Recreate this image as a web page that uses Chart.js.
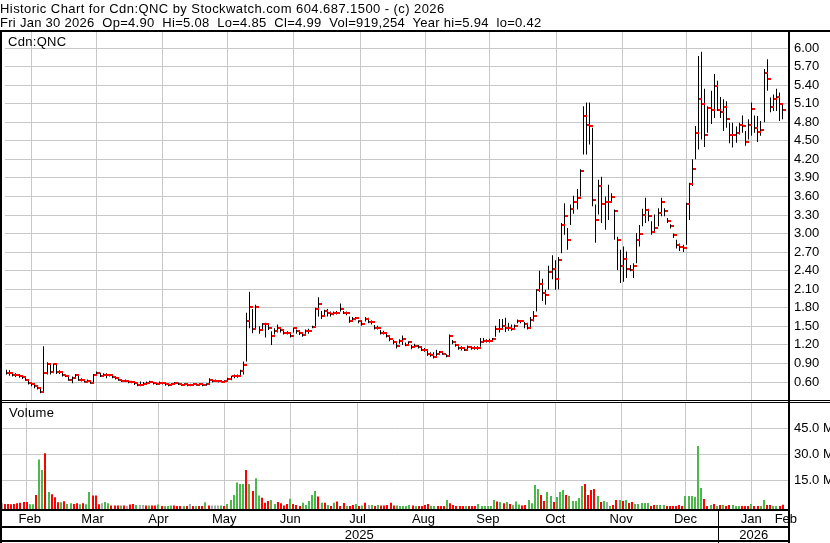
<!DOCTYPE html>
<html>
<head>
<meta charset="utf-8">
<script src="https://cdn.jsdelivr.net/npm/chart.js@4.4.1/dist/chart.umd.min.js"></script>
<style>
  body { margin: 0; background: #fff; }
  #wrap { position: relative; width: 830px; height: 543px; overflow: hidden; }
  canvas { position: absolute; left: 0; top: 0; }
  .txt { position: absolute; font: 13px "Liberation Sans", Arial, sans-serif; line-height: 15px; white-space: pre; color: #000; }
</style>
</head>
<body>
<div id="wrap">
  <canvas id="price" width="830" height="543"></canvas>
  <canvas id="vol" width="830" height="543"></canvas>
  <div class="txt" style="left:0;top:1px;letter-spacing:0.43px">Historic Chart for Cdn:QNC by Stockwatch.com 604.687.1500 - (c) 2026</div>
  <div class="txt" style="left:0;top:15px;letter-spacing:0.28px">Fri Jan 30 2026  Op=4.90  Hi=5.08  Lo=4.85  Cl=4.99  Vol=919,254  Year hi=5.94  lo=0.42</div>
  <div class="txt" style="left:8px;top:34px;letter-spacing:0.3px">Cdn:QNC</div>
  <div class="txt" style="left:9px;top:405px;letter-spacing:0.3px">Volume</div>
</div>
<script>
// trading days per month, Feb 2025 .. Jan 2026 (the last Feb only gets a label)
const monthLabels = ['Feb', 'Mar', 'Apr', 'May', 'Jun', 'Jul', 'Aug', 'Sep', 'Oct', 'Nov', 'Dec', 'Jan', 'Feb'];
const monthDays = [19, 21, 21, 21, 21, 22, 20, 21, 22, 20, 21, 21, 0];
const yearLabels = ['2025', '2026'];
const yearFirstMonth = [0, 11];

const priceTicks = [0.60, 0.90, 1.20, 1.50, 1.80, 2.10, 2.40, 2.70, 3.00, 3.30, 3.60, 3.90, 4.20, 4.50, 4.80, 5.10, 5.40, 5.70, 6.00];
const volTicks = [15, 30, 45];

const closes = [
  0.75,0.74,0.72,0.71,0.70,0.68,0.64,0.59,0.56,0.53,0.50,0.44,0.75,0.89,0.76,0.89,0.76,0.76,0.71,
  0.70,0.64,0.66,0.71,0.64,0.64,0.60,0.62,0.58,0.71,0.75,0.69,0.71,0.71,0.71,0.68,0.66,0.64,0.62,0.62,0.60,
  0.60,0.58,0.55,0.55,0.56,0.59,0.60,0.58,0.57,0.59,0.58,0.56,0.55,0.56,0.58,0.57,0.55,0.56,0.55,0.55,0.56,
  0.55,0.56,0.55,0.56,0.64,0.61,0.62,0.61,0.60,0.61,0.65,0.69,0.69,0.70,0.77,0.87,1.59,1.82,1.46,1.82,1.44,
  1.53,1.53,1.47,1.35,1.42,1.47,1.44,1.40,1.39,1.35,1.47,1.42,1.40,1.36,1.42,1.42,1.49,1.78,1.86,1.67,1.74,
  1.71,1.70,1.71,1.72,1.78,1.72,1.71,1.58,1.62,1.63,1.58,1.53,1.62,1.57,1.57,1.48,1.48,1.40,1.40,1.35,1.29,1.24,
  1.18,1.27,1.30,1.20,1.24,1.16,1.19,1.17,1.12,1.12,1.05,1.03,1.00,1.06,1.08,1.06,1.02,1.35,1.24,1.20,
  1.15,1.15,1.12,1.17,1.15,1.15,1.15,1.24,1.27,1.27,1.27,1.29,1.45,1.45,1.51,1.48,1.47,1.46,1.50,1.58,1.58,
  1.53,1.48,1.60,1.67,2.08,2.18,2.04,2.00,2.38,2.42,2.26,2.58,3.14,3.28,2.90,3.40,3.51,3.58,4.01,4.90,4.75,4.74,
  3.55,3.22,3.77,3.48,3.51,3.51,3.59,3.36,2.89,2.47,2.59,2.43,2.41,2.47,2.89,2.99,3.30,3.38,3.29,3.02,
  3.09,3.34,3.51,3.36,3.21,3.12,2.97,2.81,2.78,2.76,3.48,3.80,4.04,4.63,5.17,5.09,4.59,5.03,5.00,5.39,5.00,
  4.96,5.04,4.86,4.60,4.60,4.62,4.75,4.74,4.48,4.75,5.01,4.70,4.64,4.67,5.59,5.50,5.04,5.18,5.21,5.09,4.99
];
const highs = [
  0.80,0.79,0.76,0.74,0.73,0.71,0.68,0.63,0.60,0.56,0.54,0.50,1.18,0.92,0.90,0.90,0.89,0.79,0.76,
  0.73,0.70,0.69,0.73,0.72,0.66,0.65,0.64,0.62,0.73,0.77,0.75,0.74,0.74,0.73,0.71,0.69,0.67,0.65,0.64,0.63,
  0.62,0.60,0.58,0.61,0.60,0.61,0.62,0.60,0.59,0.61,0.60,0.58,0.57,0.58,0.60,0.59,0.57,0.58,0.57,0.57,0.58,
  0.57,0.58,0.57,0.58,0.66,0.64,0.64,0.63,0.62,0.63,0.67,0.70,0.72,0.72,0.80,0.93,1.72,2.06,1.78,1.85,1.50,
  1.55,1.56,1.55,1.42,1.47,1.53,1.47,1.44,1.42,1.40,1.48,1.45,1.43,1.40,1.45,1.46,1.51,1.80,1.97,1.75,1.77,
  1.78,1.74,1.74,1.75,1.87,1.75,1.74,1.66,1.65,1.65,1.60,1.58,1.65,1.64,1.60,1.52,1.51,1.44,1.43,1.38,1.33,1.28,
  1.24,1.29,1.35,1.24,1.26,1.20,1.22,1.20,1.15,1.15,1.10,1.08,1.08,1.12,1.10,1.09,1.05,1.37,1.28,1.22,
  1.18,1.18,1.16,1.19,1.18,1.18,1.18,1.31,1.31,1.29,1.30,1.31,1.51,1.62,1.62,1.64,1.56,1.53,1.53,1.61,1.60,
  1.57,1.56,1.65,1.75,2.10,2.40,2.27,2.09,2.48,2.65,2.57,2.62,3.17,3.49,3.09,3.47,3.61,3.72,4.04,5.06,5.12,5.12,
  4.71,3.47,3.87,3.92,3.60,3.79,3.65,3.39,2.95,2.74,2.79,2.71,2.49,2.52,3.01,3.14,3.40,3.58,3.40,3.20,
  3.31,3.41,3.58,3.41,3.25,3.15,3.00,2.90,2.84,2.82,3.50,3.82,4.20,4.74,5.87,5.94,5.34,5.06,5.31,5.58,5.47,
  5.21,5.17,5.14,4.79,4.79,4.73,4.79,4.91,4.66,4.85,5.12,4.91,4.90,4.82,5.66,5.82,5.20,5.25,5.34,5.28,5.08
];
const lows = [
  0.72,0.70,0.69,0.68,0.67,0.65,0.62,0.56,0.53,0.50,0.48,0.42,0.44,0.72,0.72,0.74,0.73,0.73,0.69,
  0.68,0.62,0.58,0.65,0.62,0.61,0.59,0.59,0.57,0.58,0.70,0.68,0.69,0.66,0.69,0.66,0.64,0.62,0.60,0.60,0.58,
  0.58,0.55,0.53,0.53,0.54,0.56,0.58,0.56,0.55,0.57,0.56,0.54,0.53,0.54,0.56,0.55,0.54,0.54,0.53,0.53,0.54,
  0.54,0.54,0.53,0.54,0.55,0.59,0.60,0.59,0.59,0.59,0.60,0.63,0.66,0.67,0.69,0.72,0.93,1.47,1.39,1.47,1.38,
  1.44,1.32,1.44,1.20,1.37,1.40,1.40,1.37,1.37,1.32,1.40,1.38,1.36,1.33,1.38,1.38,1.47,1.48,1.66,1.62,1.68,
  1.66,1.66,1.68,1.69,1.74,1.70,1.68,1.56,1.58,1.60,1.55,1.51,1.58,1.55,1.53,1.45,1.45,1.37,1.37,1.32,1.26,1.21,
  1.14,1.22,1.20,1.18,1.20,1.13,1.16,1.14,1.10,1.09,1.02,1.01,0.98,1.02,1.05,1.04,1.00,1.02,1.21,1.17,
  1.12,1.11,1.10,1.13,1.12,1.12,1.12,1.17,1.24,1.24,1.24,1.26,1.33,1.40,1.45,1.41,1.43,1.43,1.47,1.55,1.55,
  1.47,1.45,1.48,1.58,1.74,2.06,1.91,1.85,2.09,2.26,2.09,2.10,2.68,2.98,2.74,3.14,3.32,3.39,3.60,4.28,4.28,4.44,
  3.44,2.85,3.31,3.17,3.06,3.22,3.52,2.90,2.41,2.20,2.22,2.28,2.39,2.28,2.52,2.79,3.12,3.17,3.20,2.98,
  3.04,3.12,3.28,3.28,3.17,3.08,2.93,2.76,2.72,2.70,2.82,3.22,3.77,4.20,4.36,4.52,4.40,4.63,4.77,4.87,4.98,
  4.87,4.66,4.71,4.46,4.39,4.47,4.60,4.63,4.42,4.52,4.58,4.63,4.48,4.58,4.80,5.31,4.96,4.98,4.98,4.82,4.85
];
// volume in millions of shares
const volumes = [
  1.7,1.3,1.3,1.2,1.3,1.7,2.1,2.5,2.5,1.2,1.2,6.5,27,21,30.6,8.3,7.0,5.2,2.3,
  2.3,2.9,1.3,1.7,1.3,1.7,1.2,1.7,1.2,8.3,6.2,6.2,1.2,1.7,2.5,1.7,0.4,0.4,0.4,0.4,0.4,
  0.2,1.0,1.3,0.8,0.8,0.8,0.4,0.4,0.4,0.4,1.0,0.2,0.2,0.2,0.4,0.4,0.2,0.2,0.2,0.2,1.3,
  0.2,0.2,0.2,0.2,2.3,0.4,0.4,0.4,0.4,0.4,0.2,1.3,3.6,6.5,13.8,12.9,12.9,21,12.9,8.8,16.2,
  6.2,5.0,2.1,3.1,3.7,1.3,2.5,1.7,0.4,1.3,4.4,1.3,0.8,0.2,2.1,0.8,3.1,6.5,8.8,5.6,2.1,
  2.1,0.8,0.2,2.1,2.7,0.2,1.9,0.2,0.2,0.8,1.3,0.2,0.4,2.1,0.8,0.8,0.2,0.8,0.4,0.4,0.8,2.1,
  0.4,0.4,0.2,0.2,0.2,0.8,0.4,0.2,0.2,0.2,0.8,1.3,0.2,0.2,0.2,0.2,0.2,3.6,1.7,0.8,
  0.2,0.2,0.2,0.2,0.2,0.2,0.1,1.3,0.2,0.2,0.2,0.2,3.6,2.7,2.5,1.7,2.5,1.3,0.6,2.7,1.0,
  0.4,0.8,3.6,1.7,12.3,10.0,6.5,3.1,8.3,6.0,2.5,5.4,8.3,9.4,6.5,6.0,3.1,3.1,4.8,11.7,12.9,6.5,
  9.4,10.0,6.0,2.5,3.1,2.5,0.2,0.8,3.6,3.6,3.1,3.6,1.9,2.5,1.3,1.3,1.9,1.9,1.9,0.2,
  0.8,0.8,0.8,0.8,0.2,0.2,0.1,0.2,0.8,0.2,6.0,6.0,6.0,5.4,34.8,10.6,4.2,0.2,0.8,1.3,0.2,
  0.8,0.8,0.2,0.8,0.8,0.2,0.2,0.2,0.2,0.2,1.3,0.2,0.2,0.2,3.6,0.8,0.8,0.2,0.2,0.2,0.9
];
// g = up day, r = down day, n = unchanged
const volColors = [
  'nrrrrrrrrggrggrgrrr',
  'grggrrgrggrrrnggrrrgr',
  'nrrgnnrgrrgrgggrrrgrn',
  'rgrrgrnnngrggggggrgrg',
  'grrrggrrrrgrrrgggggrg',
  'rgrgrrrgrrgrgrngrgrrrr',
  'rgggggrgrrrrggrrrgrr',
  'rrrgrrrggggggrgrgrggg',
  'rrggggrrggrgggrgggggrr',
  'rrgrgngrrgrgrrgggggr',
  'rgggrrrrrrggggggrrgrg',
  'rgrrgggrrrgrrggrrggrr'
].join('');

const GREEN = '#4cb84c', RED = '#ff0000', GREY = '#a8a8a8';
const FONT = '"Liberation Sans", Arial, sans-serif';

// month boundaries in trading-day index units
const monthStart = [];
monthDays.reduce((acc, d) => { monthStart.push(acc); return acc + d; }, 0);
const boundaries = monthStart.slice(1).map(s => s - 0.5);

const X_MIN = -0.5, X_MAX = 251;
const VOL_FLOOR = -1.56;

function xAxis() {
  return {
    type: 'linear', min: X_MIN, max: X_MAX, offset: false,
    afterBuildTicks: s => { s.ticks = boundaries.map(v => ({ value: v })); },
    afterFit: s => { s.height = 0; },
    ticks: { display: false },
    grid: { color: '#c8c8c8', lineWidth: 1, drawTicks: false },
    border: { display: false }
  };
}

// the close mark: a small red dash right of the high-low line
const closeMark = document.createElement('canvas');
closeMark.width = 7; closeMark.height = 2;
const cm = closeMark.getContext('2d');
cm.fillStyle = RED;
cm.fillRect(4, 0, 3, 2);

// snap the library's bar / point positions to whole pixels so the 1px lines stay black
const snap = {
  id: 'snap',
  beforeDatasetsDraw(chart) {
    chart.ctx.imageSmoothingEnabled = false;
    chart.data.datasets.forEach((ds, di) => {
      const meta = chart.getDatasetMeta(di);
      meta.data.forEach(el => {
        if (meta.type === 'bar') {
          el.x = Math.round(el.x - el.width / 2) + el.width / 2;
        } else {
          el.x = Math.round(el.x - 0.5) + 0.5;
          el.y = Math.round(el.y);
        }
      });
    });
  }
};

new Chart(document.getElementById('price'), {
  type: 'bar',
  data: {
    datasets: [
      {
        type: 'line',
        data: closes.map((c, i) => ({ x: i, y: c })),
        showLine: false,
        pointStyle: closeMark,
        pointRadius: 2,
        order: 0
      },
      {
        data: lows.map((l, i) => ({ x: i, y: [l, highs[i]] })),
        backgroundColor: '#000',
        barThickness: 1,
        inflateAmount: 0,
        order: 1
      }
    ]
  },
  options: {
    responsive: false, animation: false, devicePixelRatio: 1, events: [],
    layout: { padding: { left: 0, right: 0, top: 32, bottom: 143 } },
    plugins: { legend: { display: false }, tooltip: { enabled: false } },
    scales: {
      x: xAxis(),
      y: {
        position: 'right', min: 0.309, max: 6.259,
        afterBuildTicks: s => { s.ticks = priceTicks.map(v => ({ value: v })); },
        afterFit: s => { s.width = 41; s.paddingTop = 0; s.paddingBottom = 0; },
        ticks: { color: '#000', padding: 5, font: { family: FONT, size: 13 }, callback: v => v.toFixed(2) },
        grid: { color: '#c8c8c8', lineWidth: 1, drawTicks: false },
        border: { display: false }
      }
    }
  },
  plugins: [snap]
});

const frame = {
  id: 'frame',
  afterDraw(chart) {
    const { ctx, chartArea: a, scales: { x } } = chart;
    ctx.save();
    ctx.fillStyle = '#000';
    ctx.fillRect(0, 30, 830, 2);
    ctx.fillRect(0, 400, 830, 1);
    ctx.fillRect(0, 402, 830, 1);
    ctx.fillRect(0, a.bottom, a.right, 2);
    ctx.fillRect(0, 526, a.right, 2);
    ctx.fillRect(0, 540, a.right, 2);
    ctx.fillRect(0, 30, 2, 513);
    ctx.fillRect(a.right - 1, 30, 2, 513);

    ctx.font = '13px ' + FONT;
    ctx.textAlign = 'center';
    ctx.textBaseline = 'alphabetic';
    monthLabels.forEach((m, k) => {
      const mid = monthDays[k] ? monthStart[k] + monthDays[k] / 2 - 0.5 : monthStart[k];
      ctx.fillText(m, x.getPixelForValue(mid), 523);
    });

    yearLabels.forEach((y, k) => {
      const from = k === 0 ? a.left : x.getPixelForValue(monthStart[yearFirstMonth[k]] - 0.5);
      const to = k === yearLabels.length - 1 ? a.right : x.getPixelForValue(monthStart[yearFirstMonth[k + 1]] - 0.5);
      ctx.fillText(y, (from + to) / 2, 539);
      if (k > 0) ctx.fillRect(Math.round(from), a.bottom, 1, 543 - a.bottom);
    });
    ctx.restore();
  }
};

new Chart(document.getElementById('vol'), {
  type: 'bar',
  data: {
    datasets: [{
      data: volumes.map((v, i) => ({ x: i, y: [VOL_FLOOR, v] })),
      backgroundColor: volumes.map((v, i) => volColors[i] === 'g' ? GREEN : volColors[i] === 'r' ? RED : GREY),
      barThickness: 2,
      inflateAmount: 0
    }]
  },
  options: {
    responsive: false, animation: false, devicePixelRatio: 1, events: [],
    layout: { padding: { left: 0, right: 0, top: 403, bottom: 34 } },
    plugins: { legend: { display: false }, tooltip: { enabled: false } },
    scales: {
      x: xAxis(),
      y: {
        position: 'right', min: VOL_FLOOR, max: 59.6,
        afterBuildTicks: s => { s.ticks = volTicks.map(v => ({ value: v })); },
        afterFit: s => { s.width = 41; s.paddingTop = 0; s.paddingBottom = 0; },
        ticks: { color: '#000', padding: 5, font: { family: FONT, size: 13 }, callback: v => v.toFixed(1) + ' M' },
        grid: { color: '#c8c8c8', lineWidth: 1, drawTicks: false },
        border: { display: false }
      }
    }
  },
  plugins: [snap, frame]
});
</script>
</body>
</html>
